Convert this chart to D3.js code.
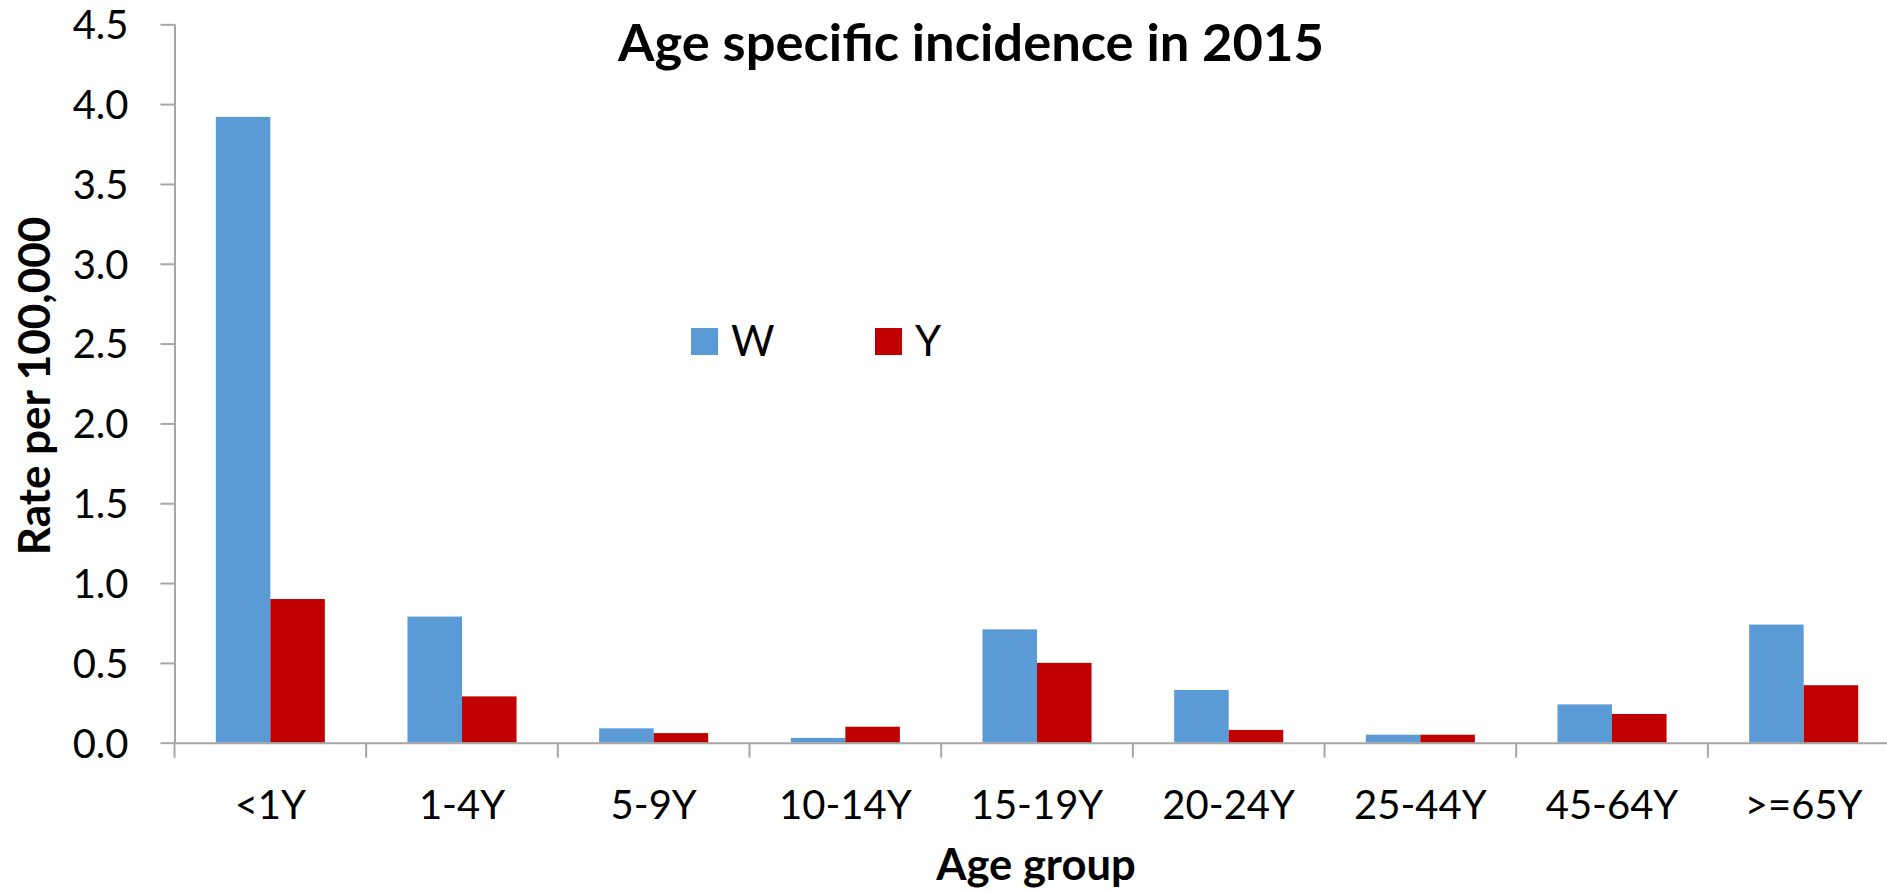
<!DOCTYPE html>
<html>
<head>
<meta charset="utf-8">
<script src="https://cdn.jsdelivr.net/npm/d3@7"></script>
<style>
  body { margin: 0; background: #fff; overflow: hidden; }
  text { font-family: Lato, "Noto Sans", sans-serif; fill: #000; }
</style>
</head>
<body>
<div id="chart"></div>
<script>
// Data
const ageGroups = ["<1Y", "1-4Y", "5-9Y", "10-14Y", "15-19Y", "20-24Y", "25-44Y", "45-64Y", ">=65Y"];
const seriesNames = ["W", "Y"];
const wValues = [3.92, 0.79, 0.09, 0.03, 0.71, 0.33, 0.05, 0.24, 0.74];
const yValues = [0.90, 0.29, 0.06, 0.10, 0.50, 0.08, 0.05, 0.18, 0.36];
const yTicks = [0, 0.5, 1.0, 1.5, 2.0, 2.5, 3.0, 3.5, 4.0, 4.5];
const colors = ["#5B9BD5", "#C00000"];

const width = 1887;
const height = 892;
const plotLeft = 174.5;
const step = 191.67;
const plotTop = 24.3;
const plotBottom = 742.7;

const svg = d3.select("#chart")
  .append("svg")
  .attr("width", width)
  .attr("height", height);

// Scales
const x0 = d3.scaleBand()
  .domain(ageGroups)
  .range([plotLeft, plotLeft + step * ageGroups.length])
  .padding(0);
const x1 = d3.scaleBand()
  .domain(seriesNames)
  .range([0, x0.bandwidth()])
  .paddingInner(0)
  .paddingOuter(0.758);
const y = d3.scaleLinear()
  .domain([0, 4.5])
  .range([plotBottom, plotTop]);

const rows = ageGroups.map((g, i) => ({ group: g, values: [wValues[i], yValues[i]] }));

// Bars
const groups = svg.append("g")
  .selectAll("g")
  .data(rows)
  .join("g")
  .attr("transform", d => `translate(${x0(d.group)},0)`);
groups.selectAll("rect")
  .data(d => d.values.map((v, i) => ({ name: seriesNames[i], value: v, color: colors[i] })))
  .join("rect")
  .attr("x", d => x1(d.name))
  .attr("width", x1.bandwidth())
  .attr("y", d => y(d.value))
  .attr("height", d => y(0) - y(d.value))
  .attr("fill", d => d.color);

// Y axis
const yAxis = svg.append("g")
  .attr("transform", `translate(${plotLeft},0)`)
  .call(d3.axisLeft(y).tickValues(yTicks).tickSize(14).tickPadding(32).tickFormat(d3.format(".1f")));
yAxis.selectAll("text").style("font-size", "40px").attr("dy", "0.36em");

// X axis
const xAxis = svg.append("g")
  .attr("transform", `translate(0,${plotBottom})`)
  .call(d3.axisBottom(x0).tickSize(0).tickPadding(48));
xAxis.selectAll("text").style("font-size", "40px").attr("dy", "0.71em");
xAxis.selectAll(".tick line").remove();
// category separators
svg.append("g")
  .selectAll("line")
  .data(d3.range(ageGroups.length + 1))
  .join("line")
  .attr("x1", i => plotLeft + i * step)
  .attr("x2", i => plotLeft + i * step)
  .attr("y1", plotBottom)
  .attr("y2", plotBottom + 15)
  .attr("stroke", "#a6a6a6")
  .attr("stroke-width", 2);

svg.selectAll(".domain, .tick line").attr("stroke", "#a6a6a6").attr("stroke-width", 2);
xAxis.select(".domain").attr("d", `M${plotLeft},0.5H${plotLeft + step * ageGroups.length}`);
yAxis.select(".domain").attr("d", `M0.5,${plotTop}V${plotBottom}`);

// Titles
svg.append("text")
  .attr("x", 971)
  .attr("y", 61)
  .attr("text-anchor", "middle")
  .style("font-size", "52.5px")
  .style("font-weight", "bold")
  .text("Age specific incidence in 2015");
svg.append("text")
  .attr("x", 1036)
  .attr("y", 880)
  .attr("text-anchor", "middle")
  .style("font-size", "43.5px")
  .style("font-weight", "bold")
  .text("Age group");
svg.append("text")
  .attr("transform", "translate(50,386) rotate(-90)")
  .attr("text-anchor", "middle")
  .style("font-size", "44px")
  .style("font-weight", "bold")
  .text("Rate per 100,000");

// Legend
const legend = svg.append("g")
  .selectAll("g")
  .data(seriesNames)
  .join("g")
  .attr("transform", (d, i) => `translate(${691 + i * 184},328)`);
legend.append("rect")
  .attr("width", 27)
  .attr("height", 27)
  .attr("fill", (d, i) => colors[i]);
legend.append("text")
  .attr("x", 40)
  .attr("y", 28)
  .style("font-size", "42px")
  .text(d => d);
</script>
</body>
</html>
